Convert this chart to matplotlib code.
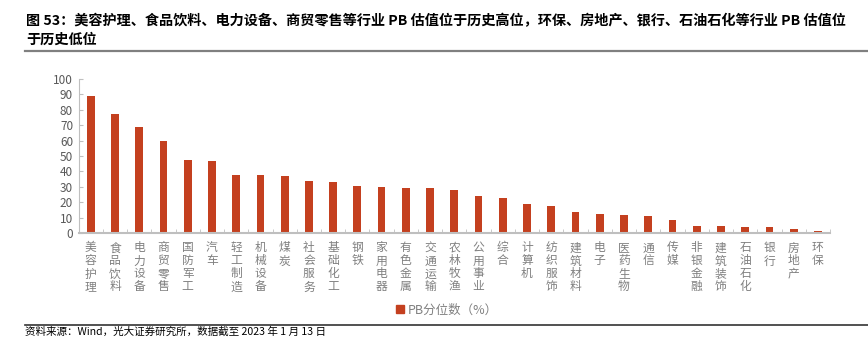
import matplotlib.pyplot as plt
from matplotlib.patches import Rectangle
from matplotlib.lines import Line2D

plt.rcParams['font.family'] = ['Noto Sans CJK SC', 'DejaVu Sans']

industries = ['美容护理', '食品饮料', '电力设备', '商贸零售', '国防军工', '汽车', '轻工制造',
              '机械设备', '煤炭', '社会服务', '基础化工', '钢铁', '家用电器', '有色金属',
              '交通运输', '农林牧渔', '公用事业', '综合', '计算机', '纺织服饰', '建筑材料',
              '电子', '医药生物', '通信', '传媒', '非银金融', '建筑装饰', '石油石化',
              '银行', '房地产', '环保']
pb_pct = [89.1, 77.0, 68.6, 59.5, 47.3, 47.0, 38.0, 37.5, 36.9, 33.6, 33.2, 30.4, 29.7,
          29.5, 29.1, 27.8, 23.9, 23.0, 18.7, 17.6, 13.5, 12.4, 11.5, 10.9, 8.3, 4.8,
          4.8, 4.2, 3.7, 2.6, 1.3]
yticks = list(range(0, 101, 10))

bar_color = '#C4401F'
gray = '#808080'

fig = plt.figure(figsize=(8.68, 3.57), dpi=100)
ax = fig.add_axes([0.0906, 0.347, 0.8656, 0.432])

x = list(range(len(industries)))
ax.bar(x, pb_pct, width=0.32, color=bar_color)
ax.set_xlim(-0.5, len(industries) - 0.5)
ax.set_ylim(0, 100)
ax.set_yticks(yticks)
ax.tick_params(axis='y', direction='in', length=3, color='#BFBFBF', labelsize=8.5,
               labelcolor='#595959', pad=4)

ax.set_xticks(x)
ax.set_xticklabels(['\n'.join(s) for s in industries], fontsize=8.5, color=gray,
                   linespacing=1.0, va='top')
ax.tick_params(axis='x', which='major', length=0, pad=6)
ax.set_xticks([i + 0.5 for i in x], minor=True)
ax.tick_params(axis='x', which='minor', direction='in', length=3, color='#BFBFBF')

for s in ['top', 'right']:
    ax.spines[s].set_visible(False)
ax.spines['left'].set_color('#BFBFBF')
ax.spines['bottom'].set_color('#BFBFBF')
ax.spines['bottom'].set_linewidth(1.5)

# legend
handle = Rectangle((0, 0), 1, 1, color=bar_color)
fig.legend([handle], ['PB分位数（%）'], loc='center', bbox_to_anchor=(0.515, 0.132),
           frameon=False, fontsize=9, labelcolor=gray, handlelength=0.7, handleheight=0.7,
           handletextpad=0.3)

# title
fig.text(0.030, 0.942, '图 53：美容护理、食品饮料、电力设备、商贸零售等行业 PB 估值位于历史高位，环保、房地产、银行、石油石化等行业 PB 估值位',
         fontsize=10.2, fontweight='bold', va='center', ha='left')
fig.text(0.030, 0.888, '于历史低位', fontsize=10.2, fontweight='bold', va='center', ha='left')
fig.add_artist(Line2D([0.029, 1.0], [0.858, 0.858], color='#808080', linewidth=1.6))

# source
fig.add_artist(Line2D([0.029, 1.0], [0.09, 0.09], color='#333333', linewidth=1.2))
fig.text(0.029, 0.07, '资料来源：Wind，光大证券研究所，数据截至 2023 年 1 月 13 日',
         fontsize=7.6, va='center', ha='left')

fig.savefig('out.png', dpi=100)
